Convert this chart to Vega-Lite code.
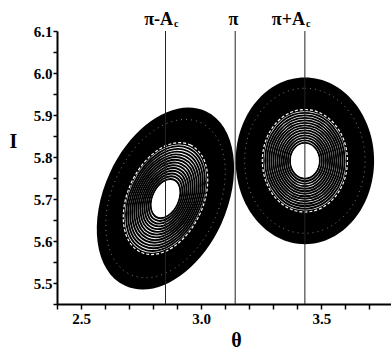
{
  "$schema": "https://vega.github.io/schema/vega-lite/v6.json",
  "width": 334,
  "height": 273,
  "autosize": {"type": "none"},
  "padding": {"left": 57, "top": 31, "right": 0, "bottom": 52},
  "background": "white",
  "config": {
    "view": {"stroke": null},
    "font": "Liberation Serif",
    "axis": {
      "grid": false, "domainWidth": 2, "domainColor": "black",
      "tickColor": "black", "tickWidth": 1.5,
      "labelFont": "Liberation Serif", "labelFontWeight": "bold", "labelFontSize": 15,
      "labelColor": "black", "labelFlush": false, "labelOverlap": false,
      "titleFont": "Liberation Serif", "titleFontSize": 20, "titleFontWeight": "bold",
      "titleColor": "black"
    },
    "axisX": {"tickSize": 5, "labelPadding": 2, "titleX": 179, "titleY": 42, "titleBaseline": "alphabetic"},
    "axisY": {"tickSize": 4, "labelPadding": 1, "titleAngle": 0, "titleX": -44, "titleY": 116, "titleAlign": "center", "titleBaseline": "alphabetic"}
  },
  "datasets": {
    "orbits": [
      {"orbit": "L", "theta": 2.8516, "I": 5.701, "kind": "outer", "level": 1.0},
      {"orbit": "L", "theta": 2.8516, "I": 5.701, "kind": "dots", "level": 0.87},
      {"orbit": "L", "theta": 2.8516, "I": 5.701, "kind": "dash", "level": 0.615},
      {"orbit": "L", "theta": 2.8516, "I": 5.701, "kind": "band", "level": 0.595},
      {"orbit": "L", "theta": 2.8516, "I": 5.701, "kind": "ring", "level": 0.215},
      {"orbit": "L", "theta": 2.8516, "I": 5.701, "kind": "ring", "level": 0.245},
      {"orbit": "L", "theta": 2.8516, "I": 5.701, "kind": "ring", "level": 0.275},
      {"orbit": "L", "theta": 2.8516, "I": 5.701, "kind": "ring", "level": 0.305},
      {"orbit": "L", "theta": 2.8516, "I": 5.701, "kind": "ring", "level": 0.335},
      {"orbit": "L", "theta": 2.8516, "I": 5.701, "kind": "ring", "level": 0.365},
      {"orbit": "L", "theta": 2.8516, "I": 5.701, "kind": "ring", "level": 0.395},
      {"orbit": "L", "theta": 2.8516, "I": 5.701, "kind": "ring", "level": 0.425},
      {"orbit": "L", "theta": 2.8516, "I": 5.701, "kind": "ring", "level": 0.455},
      {"orbit": "L", "theta": 2.8516, "I": 5.701, "kind": "ring", "level": 0.485},
      {"orbit": "L", "theta": 2.8516, "I": 5.701, "kind": "ring", "level": 0.515},
      {"orbit": "L", "theta": 2.8516, "I": 5.701, "kind": "ring", "level": 0.545},
      {"orbit": "L", "theta": 2.8516, "I": 5.701, "kind": "ring", "level": 0.575},
      {"orbit": "L", "theta": 2.8516, "I": 5.701, "kind": "hole", "level": 0.2},
      {"orbit": "R", "theta": 3.4316, "I": 5.791, "kind": "outer", "level": 1.0},
      {"orbit": "R", "theta": 3.4316, "I": 5.791, "kind": "dots", "level": 0.87},
      {"orbit": "R", "theta": 3.4316, "I": 5.791, "kind": "dash", "level": 0.615},
      {"orbit": "R", "theta": 3.4316, "I": 5.791, "kind": "band", "level": 0.595},
      {"orbit": "R", "theta": 3.4316, "I": 5.791, "kind": "ring", "level": 0.215},
      {"orbit": "R", "theta": 3.4316, "I": 5.791, "kind": "ring", "level": 0.245},
      {"orbit": "R", "theta": 3.4316, "I": 5.791, "kind": "ring", "level": 0.275},
      {"orbit": "R", "theta": 3.4316, "I": 5.791, "kind": "ring", "level": 0.305},
      {"orbit": "R", "theta": 3.4316, "I": 5.791, "kind": "ring", "level": 0.335},
      {"orbit": "R", "theta": 3.4316, "I": 5.791, "kind": "ring", "level": 0.365},
      {"orbit": "R", "theta": 3.4316, "I": 5.791, "kind": "ring", "level": 0.395},
      {"orbit": "R", "theta": 3.4316, "I": 5.791, "kind": "ring", "level": 0.425},
      {"orbit": "R", "theta": 3.4316, "I": 5.791, "kind": "ring", "level": 0.455},
      {"orbit": "R", "theta": 3.4316, "I": 5.791, "kind": "ring", "level": 0.485},
      {"orbit": "R", "theta": 3.4316, "I": 5.791, "kind": "ring", "level": 0.515},
      {"orbit": "R", "theta": 3.4316, "I": 5.791, "kind": "ring", "level": 0.545},
      {"orbit": "R", "theta": 3.4316, "I": 5.791, "kind": "ring", "level": 0.575},
      {"orbit": "R", "theta": 3.4316, "I": 5.791, "kind": "hole", "level": 0.2}
    ],
    "lines": [
      {"theta": 2.8516, "name": "π-A", "sub": "c", "lx": 2.8827},
      {"theta": 3.1416, "name": "π", "sub": "", "lx": 3.1545},
      {"theta": 3.4316, "name": "π+A", "sub": "c", "lx": 3.432}
    ]
  },
  "layer": [
    {
      "data": {"name": "orbits"},
      "encoding": {
        "x": {
          "field": "theta", "type": "quantitative",
          "scale": {"domain": [2.4, 3.79], "nice": false, "zero": false},
          "axis": {
            "title": "θ",
            "values": [2.4, 2.5, 2.6, 2.7, 2.8, 2.9, 3.0, 3.1, 3.2, 3.3, 3.4, 3.5, 3.6, 3.7],
            "labelExpr": "abs(datum.value * 2 - round(datum.value * 2)) < 0.001 ? format(datum.value, '.1f') : ''"
          }
        },
        "y": {
          "field": "I", "type": "quantitative",
          "scale": {"domain": [5.45, 6.1], "nice": false, "zero": false},
          "axis": {
            "title": "I",
            "values": [5.45, 5.5, 5.55, 5.6, 5.65, 5.7, 5.75, 5.8, 5.85, 5.9, 5.95, 6.0, 6.05, 6.1],
            "labelExpr": "abs(datum.value * 10 - round(datum.value * 10)) < 0.01 ? format(datum.value, '.1f') : ''"
          }
        },
        "size": {
          "field": "level", "type": "quantitative",
          "scale": {"type": "pow", "exponent": 2, "domain": [0, 1], "range": [0, 39601]},
          "legend": null
        },
        "shape": {
          "field": "orbit", "type": "nominal",
          "scale": {
            "domain": ["L", "R"],
            "range": [
              "M 0.4045 -0.8772 C 0.7135 -0.7348 0.7828 -0.2266 0.5594 0.2579 C 0.3360 0.7424 -0.0955 1.0196 -0.4045 0.8772 C -0.7135 0.7348 -0.7828 0.2266 -0.5594 -0.2579 C -0.3360 -0.7424 0.0955 -1.0196 0.4045 -0.8772 Z",
              "M 0 -0.838 A 0.6955 0.838 0 1 1 0 0.838 A 0.6955 0.838 0 1 1 0 -0.838 Z"
            ]
          },
          "legend": null
        }
      },
      "layer": [
        {"transform": [{"filter": "datum.kind == 'outer'"}],
         "mark": {"type": "point", "filled": true, "fill": "black", "strokeWidth": 0, "opacity": 1}},
        {"transform": [{"filter": "datum.kind == 'dots'"}],
         "mark": {"type": "point", "filled": false, "stroke": "white", "strokeWidth": 0.8, "strokeDash": [1, 4], "opacity": 0.6}},
        {"transform": [{"filter": "datum.kind == 'dash'"}],
         "mark": {"type": "point", "filled": false, "stroke": "white", "strokeWidth": 1.2, "strokeDash": [3, 2], "opacity": 1}},
        {"transform": [{"filter": "datum.kind == 'band'"}],
         "mark": {"type": "point", "filled": true, "fill": "white", "strokeWidth": 0, "opacity": 1}},
        {"transform": [{"filter": "datum.kind == 'ring'"}],
         "mark": {"type": "point", "filled": false, "stroke": "black", "strokeWidth": 1.9, "opacity": 1}},
        {"transform": [{"filter": "datum.kind == 'hole'"}],
         "mark": {"type": "point", "filled": true, "fill": "white", "strokeWidth": 0, "opacity": 1}}
      ]
    },
    {
      "data": {"name": "lines"},
      "mark": {"type": "rule", "color": "#222", "strokeWidth": 1},
      "encoding": {
        "x": {
          "field": "theta", "type": "quantitative",
          "axis": {
            "title": "θ",
            "values": [2.4, 2.5, 2.6, 2.7, 2.8, 2.9, 3.0, 3.1, 3.2, 3.3, 3.4, 3.5, 3.6, 3.7],
            "labelExpr": "abs(datum.value * 2 - round(datum.value * 2)) < 0.001 ? format(datum.value, '.1f') : ''"
          }
        },
        "y": {
          "datum": 6.1, "type": "quantitative",
          "axis": {
            "title": "I",
            "values": [5.45, 5.5, 5.55, 5.6, 5.65, 5.7, 5.75, 5.8, 5.85, 5.9, 5.95, 6.0, 6.05, 6.1],
            "labelExpr": "abs(datum.value * 10 - round(datum.value * 10)) < 0.01 ? format(datum.value, '.1f') : ''"
          }
        },
        "y2": {"datum": 5.45}
      }
    },
    {
      "data": {"name": "lines"},
      "mark": {"type": "text", "align": "right", "baseline": "alphabetic", "dy": -6,
               "font": "Liberation Serif", "fontWeight": "bold", "fontSize": 18, "color": "black"},
      "encoding": {
        "x": {
          "field": "lx", "type": "quantitative",
          "axis": {
            "title": "θ",
            "values": [2.4, 2.5, 2.6, 2.7, 2.8, 2.9, 3.0, 3.1, 3.2, 3.3, 3.4, 3.5, 3.6, 3.7],
            "labelExpr": "abs(datum.value * 2 - round(datum.value * 2)) < 0.001 ? format(datum.value, '.1f') : ''"
          }
        },
        "y": {
          "datum": 6.1, "type": "quantitative",
          "axis": {
            "title": "I",
            "values": [5.45, 5.5, 5.55, 5.6, 5.65, 5.7, 5.75, 5.8, 5.85, 5.9, 5.95, 6.0, 6.05, 6.1],
            "labelExpr": "abs(datum.value * 10 - round(datum.value * 10)) < 0.01 ? format(datum.value, '.1f') : ''"
          }
        },
        "text": {"field": "name"}
      }
    },
    {
      "data": {"name": "lines"},
      "mark": {"type": "text", "align": "left", "baseline": "alphabetic", "dx": 1, "dy": -4,
               "font": "Liberation Serif", "fontWeight": "bold", "fontSize": 10, "color": "black"},
      "encoding": {
        "x": {
          "field": "lx", "type": "quantitative",
          "axis": {
            "title": "θ",
            "values": [2.4, 2.5, 2.6, 2.7, 2.8, 2.9, 3.0, 3.1, 3.2, 3.3, 3.4, 3.5, 3.6, 3.7],
            "labelExpr": "abs(datum.value * 2 - round(datum.value * 2)) < 0.001 ? format(datum.value, '.1f') : ''"
          }
        },
        "y": {
          "datum": 6.1, "type": "quantitative",
          "axis": {
            "title": "I",
            "values": [5.45, 5.5, 5.55, 5.6, 5.65, 5.7, 5.75, 5.8, 5.85, 5.9, 5.95, 6.0, 6.05, 6.1],
            "labelExpr": "abs(datum.value * 10 - round(datum.value * 10)) < 0.01 ? format(datum.value, '.1f') : ''"
          }
        },
        "text": {"field": "sub"}
      }
    }
  ]
}
